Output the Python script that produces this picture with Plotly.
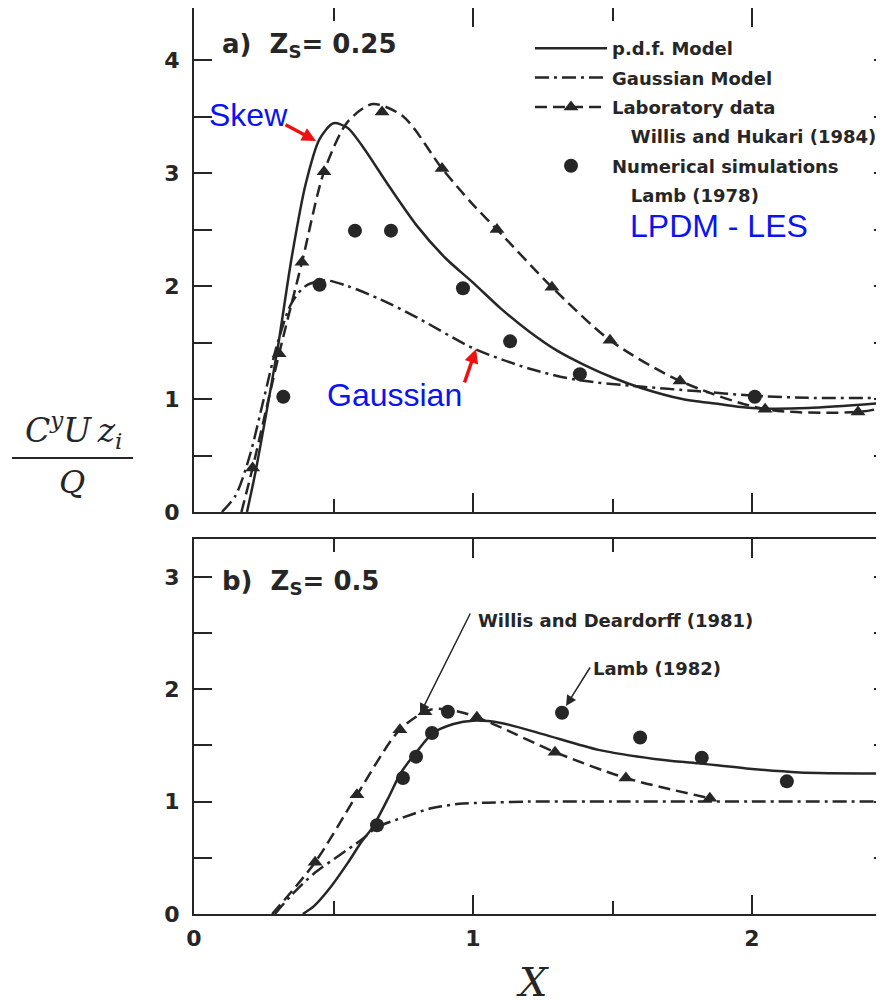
import plotly.graph_objects as go

W, H = 884, 1005

# ---------------- Panel a) Zs = 0.25 ----------------
a_pdf_x = [0.19, 0.22, 0.25, 0.30, 0.35, 0.40, 0.45, 0.50, 0.55, 0.60, 0.70, 0.80, 0.90,
           1.00, 1.10, 1.20, 1.30, 1.40, 1.50, 1.60, 1.75, 1.90, 2.00, 2.20, 2.50]
a_pdf_y = [0.00, 0.35, 0.75, 1.45, 2.25, 2.90, 3.30, 3.44, 3.40, 3.25, 2.88, 2.53, 2.25,
           2.03, 1.80, 1.60, 1.43, 1.30, 1.19, 1.10, 1.00, 0.95, 0.92, 0.92, 0.97]

a_gauss_x = [0.10, 0.15, 0.20, 0.25, 0.30, 0.35, 0.40, 0.47, 0.55, 0.67, 0.80, 1.00,
             1.20, 1.37, 1.60, 1.80, 2.00, 2.20, 2.50]
a_gauss_y = [0.00, 0.15, 0.50, 1.00, 1.50, 1.85, 2.00, 2.05, 2.00, 1.88, 1.72, 1.45,
             1.27, 1.17, 1.11, 1.07, 1.03, 1.01, 1.01]

a_labcurve_x = [0.17, 0.21, 0.305, 0.387, 0.466, 0.55, 0.64, 0.75, 0.889, 1.00, 1.086,
                1.283, 1.491, 1.742, 2.047, 2.38, 2.50]
a_labcurve_y = [0.00, 0.39, 1.40, 2.21, 3.01, 3.45, 3.61, 3.50, 3.04, 2.72, 2.50,
                1.99, 1.52, 1.16, 0.91, 0.885, 0.94]

a_lab_x = [0.21, 0.305, 0.387, 0.466, 0.674, 0.889, 1.086, 1.283, 1.491, 1.742, 2.047, 2.38]
a_lab_y = [0.39, 1.40, 2.21, 3.01, 3.54, 3.04, 2.50, 1.99, 1.52, 1.16, 0.91, 0.885]

a_num_x = [0.32, 0.45, 0.577, 0.706, 0.964, 1.133, 1.383, 2.01]
a_num_y = [1.02, 2.01, 2.49, 2.49, 1.98, 1.51, 1.22, 1.02]

# ---------------- Panel b) Zs = 0.5 ----------------
b_pdf_x = [0.39, 0.43, 0.49, 0.55, 0.60, 0.64, 0.70, 0.74, 0.80, 0.857, 0.93, 1.00,
           1.10, 1.25, 1.45, 1.65, 1.81, 2.00, 2.17, 2.50]
b_pdf_y = [0.00, 0.07, 0.24, 0.45, 0.64, 0.77, 1.05, 1.25, 1.45, 1.61, 1.69, 1.72,
           1.70, 1.60, 1.46, 1.38, 1.34, 1.29, 1.26, 1.25]

b_gauss_x = [0.29, 0.35, 0.43, 0.52, 0.60, 0.656, 0.75, 0.85, 0.95, 1.05, 1.20, 1.50, 2.00, 2.50]
b_gauss_y = [0.00, 0.17, 0.36, 0.52, 0.66, 0.77, 0.86, 0.94, 0.98, 0.99, 1.00, 1.00, 1.00, 1.00]

b_labcurve_x = [0.28, 0.434, 0.584, 0.738, 0.85, 0.95, 1.014, 1.10, 1.294, 1.548, 1.849]
b_labcurve_y = [0.00, 0.46, 1.06, 1.64, 1.82, 1.80, 1.75, 1.66, 1.44, 1.21, 1.03]

b_lab_x = [0.434, 0.584, 0.738, 0.828, 1.014, 1.294, 1.548, 1.849]
b_lab_y = [0.46, 1.06, 1.64, 1.80, 1.75, 1.44, 1.21, 1.03]

b_num_x = [0.656, 0.749, 0.796, 0.853, 0.91, 1.319, 1.599, 1.82, 2.125]
b_num_y = [0.79, 1.21, 1.40, 1.61, 1.80, 1.79, 1.57, 1.39, 1.18]

# ---------------- styling ----------------
INK = "#262626"
LW = 2.5
DASH = "12px,6px"
DASHDOT = "14px,5px,3px,5px"
TXT = "DejaVu Sans"
SERIF = "DejaVu Serif"
OFF = 8  # page body margin in the browser


def px(x):
    return (x - OFF) / W


def py(y):
    return 1 - (y - OFF) / H


fig = go.Figure()

# Panel a traces (also drive the legend)
fig.add_trace(go.Scatter(x=a_pdf_x, y=a_pdf_y, mode="lines", name="p.d.f. Model",
                         legendgroup="g1", line=dict(color=INK, width=LW, shape="spline", smoothing=0.8),
                         xaxis="x", yaxis="y"))
fig.add_trace(go.Scatter(x=a_gauss_x, y=a_gauss_y, mode="lines", name="Gaussian Model",
                         legendgroup="g2", line=dict(color=INK, width=LW, dash=DASHDOT, shape="spline", smoothing=0.8),
                         xaxis="x", yaxis="y"))
fig.add_trace(go.Scatter(x=[None], y=[None], mode="lines+markers", name="Laboratory data",
                         legendgroup="g3", line=dict(color=INK, width=LW, dash=DASH),
                         marker=dict(symbol="triangle-up", size=13, color=INK),
                         xaxis="x", yaxis="y"))
fig.add_trace(go.Scatter(x=[None], y=[None], mode="lines", name="\u00a0\u00a0\u00a0Willis and Hukari (1984)",
                         legendgroup="g4", line=dict(color="rgba(0,0,0,0)", width=0),
                         xaxis="x", yaxis="y"))
fig.add_trace(go.Scatter(x=a_num_x, y=a_num_y, mode="markers", name="Numerical simulations",
                         legendgroup="g5", marker=dict(symbol="circle", size=14, color=INK),
                         xaxis="x", yaxis="y"))
fig.add_trace(go.Scatter(x=[None], y=[None], mode="lines", name="\u00a0\u00a0\u00a0Lamb (1978)",
                         legendgroup="g6", line=dict(color="rgba(0,0,0,0)", width=0),
                         xaxis="x", yaxis="y"))
fig.add_trace(go.Scatter(x=a_labcurve_x, y=a_labcurve_y, mode="lines", showlegend=False,
                         line=dict(color=INK, width=LW, dash=DASH, shape="spline", smoothing=0.8),
                         xaxis="x", yaxis="y"))
fig.add_trace(go.Scatter(x=a_lab_x, y=a_lab_y, mode="markers", showlegend=False,
                         marker=dict(symbol="triangle-up", size=13, color=INK),
                         xaxis="x", yaxis="y"))

# Panel b traces
fig.add_trace(go.Scatter(x=b_pdf_x, y=b_pdf_y, mode="lines", showlegend=False,
                         line=dict(color=INK, width=LW, shape="spline", smoothing=0.8),
                         xaxis="x2", yaxis="y2"))
fig.add_trace(go.Scatter(x=b_gauss_x, y=b_gauss_y, mode="lines", showlegend=False,
                         line=dict(color=INK, width=LW, dash=DASHDOT, shape="spline", smoothing=0.8),
                         xaxis="x2", yaxis="y2"))
fig.add_trace(go.Scatter(x=b_labcurve_x, y=b_labcurve_y, mode="lines", showlegend=False,
                         line=dict(color=INK, width=LW, dash=DASH, shape="spline", smoothing=0.8),
                         xaxis="x2", yaxis="y2"))
fig.add_trace(go.Scatter(x=b_lab_x, y=b_lab_y, mode="markers", showlegend=False,
                         marker=dict(symbol="triangle-up", size=13, color=INK),
                         xaxis="x2", yaxis="y2"))
fig.add_trace(go.Scatter(x=b_num_x, y=b_num_y, mode="markers", showlegend=False,
                         marker=dict(symbol="circle", size=14, color=INK),
                         xaxis="x2", yaxis="y2"))

X0 = 194
xrange = [0, (W + OFF - X0) / 279.0]
xdom = [px(X0), 1.0]

TICKFONT = dict(family=TXT, size=22, color=INK, weight="bold")
common_x = dict(range=xrange, domain=xdom, showline=True, linecolor=INK, linewidth=2,
                mirror="ticks", ticks="inside", ticklen=19, tickwidth=2, tickcolor=INK,
                tick0=0, dtick=1, showgrid=False, zeroline=False, automargin=False,
                minor=dict(dtick=0.5, ticks="inside", ticklen=13, tickwidth=2, tickcolor=INK, showgrid=False),
                tickfont=TICKFONT)
common_y = dict(showline=True, linecolor=INK, linewidth=2, mirror="ticks",
                ticks="inside", ticklen=18, tickwidth=2, tickcolor=INK,
                tick0=0, dtick=1, showgrid=False, zeroline=False, automargin=False,
                minor=dict(dtick=0.5, ticks="inside", ticklen=18, tickwidth=2, tickcolor=INK, showgrid=False),
                tickfont=TICKFONT, ticklabelstandoff=8)

fig.update_layout(
    width=W, height=H,
    margin=dict(l=0, r=0, t=0, b=0),
    paper_bgcolor="white", plot_bgcolor="white",
    xaxis=dict(common_x, anchor="y", showticklabels=False),
    yaxis=dict(common_y, anchor="x", domain=[py(512), py(8)], range=[0, (512 - 8) / 113.0]),
    xaxis2=dict(common_x, anchor="y2", showticklabels=True, ticklabelstandoff=4),
    yaxis2=dict(common_y, anchor="x2", domain=[py(914), py(539)], range=[0, (914 - 539) / 112.4]),
    legend=dict(x=px(530), y=py(30), xanchor="left", yanchor="top",
                bgcolor="rgba(0,0,0,0)", borderwidth=0, tracegroupgap=3,
                font=dict(family=TXT, size=18, color=INK, weight="bold"), itemwidth=72),
    showlegend=True,
)

ann = []
LBL = dict(family=TXT, size=26, color=INK, weight="bold")
# panel labels
ann.append(dict(x=px(220), y=py(45), xref="paper", yref="paper", xanchor="left", yanchor="middle",
                text="a)  Z<sub>S</sub>= 0.25", showarrow=False, font=LBL))
ann.append(dict(x=px(220), y=py(582), xref="paper", yref="paper", xanchor="left", yanchor="middle",
                text="b)  Z<sub>S</sub>= 0.5", showarrow=False, font=LBL))
# blue labels
BLUE = "#0a14f0"
BF = dict(family="Liberation Sans", size=32, color=BLUE)
ann.append(dict(x=px(249), y=py(115), xref="paper", yref="paper", xanchor="center", yanchor="middle",
                text="Skew", showarrow=False, font=BF))
ann.append(dict(x=px(394), y=py(395), xref="paper", yref="paper", xanchor="center", yanchor="middle",
                text="Gaussian", showarrow=False, font=BF))
ann.append(dict(x=px(719), y=py(226), xref="paper", yref="paper", xanchor="center", yanchor="middle",
                text="LPDM - LES", showarrow=False, font=BF))
# red arrows
ann.append(dict(x=px(316), y=py(141), xref="paper", yref="paper", text="", showarrow=True,
                ax=-32, ay=-17, arrowcolor="#ee1111", arrowwidth=3.5, arrowhead=2, arrowsize=0.8))
ann.append(dict(x=px(476), y=py(349), xref="paper", yref="paper", text="", showarrow=True,
                ax=-12, ay=35, arrowcolor="#ee1111", arrowwidth=3.5, arrowhead=2, arrowsize=0.8))
# panel b callouts
CF = dict(family=TXT, size=18, color=INK, weight="bold")
ann.append(dict(x=px(476), y=py(620), xref="paper", yref="paper", xanchor="left", yanchor="middle",
                text="Willis and Deardorff (1981)", showarrow=False, font=CF))
ann.append(dict(x=px(420), y=py(714), xref="paper", yref="paper", text="", showarrow=True,
                ax=51, ay=-102, arrowcolor=INK, arrowwidth=1.5, arrowhead=2, arrowsize=1.4))
ann.append(dict(x=px(591), y=py(668), xref="paper", yref="paper", xanchor="left", yanchor="middle",
                text="Lamb (1982)", showarrow=False, font=CF))
ann.append(dict(x=px(566), y=py(706), xref="paper", yref="paper", text="", showarrow=True,
                ax=25, ay=-40, arrowcolor=INK, arrowwidth=1.5, arrowhead=2, arrowsize=1.4))
# axis titles
ann.append(dict(x=px(73), y=py(430), xref="paper", yref="paper", xanchor="center", yanchor="middle",
                text="<i>C<sup>y</sup>U\u2009z<sub>i</sub></i>", showarrow=False,
                font=dict(family=SERIF, size=33, color=INK)))
ann.append(dict(x=px(72), y=py(482), xref="paper", yref="paper", xanchor="center", yanchor="middle",
                text="<i>Q</i>", showarrow=False, font=dict(family=SERIF, size=32, color=INK)))
ann.append(dict(x=px(532), y=py(982), xref="paper", yref="paper", xanchor="center", yanchor="middle",
                text="<i>X</i>", showarrow=False, font=dict(family=SERIF, size=40, color=INK)))
fig.update_layout(annotations=ann)

fig.add_shape(type="line", xref="paper", yref="paper", x0=px(12), x1=px(133), y0=py(458), y1=py(458),
              line=dict(color=INK, width=2))

fig.write_html("out.html")
